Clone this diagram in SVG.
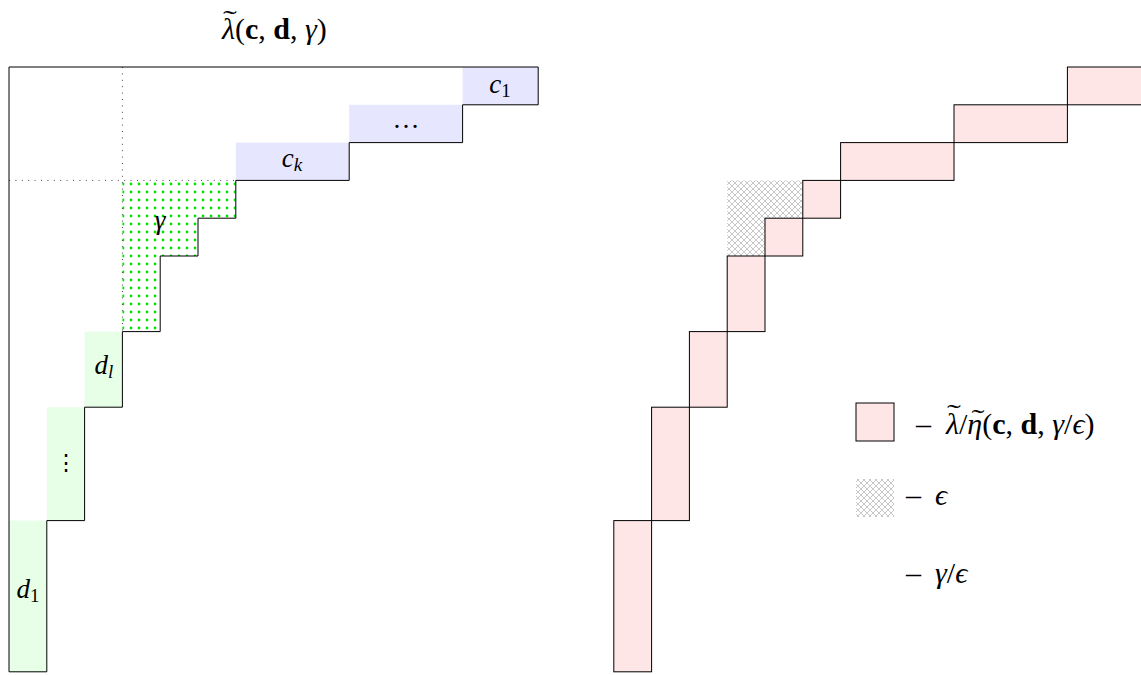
<svg xmlns="http://www.w3.org/2000/svg" width="1141" height="675" viewBox="0 0 1141 675">
<defs>
<style>
.math{font-family:"Liberation Serif","DejaVu Serif",serif;font-size:30px;fill:#000}
.lab{font-family:"Liberation Serif","DejaVu Serif",serif;font-size:27px;fill:#000}
.it{font-style:italic}
.bf{font-weight:bold}
.sub{font-size:19px}
.til{font-family:"Liberation Serif","DejaVu Serif",serif;font-size:26px;fill:#000}
.out{fill:none;stroke:#000;stroke-width:1}
.box{stroke:#000;stroke-width:1}
.dot{fill:none;stroke:#444;stroke-width:1;stroke-dasharray:1 5.4}
</style>
<pattern id="gdots" patternUnits="userSpaceOnUse" x="119" y="180" width="8" height="8">
<circle cx="4" cy="4" r="1.4" fill="#00e600"/>
</pattern>
<pattern id="xhatch" patternUnits="userSpaceOnUse" x="0" y="0" width="6" height="6">
<path d="M0,0 L6,6 M6,0 L0,6" stroke="#b0b0b0" stroke-width="0.7" fill="none"/>
</pattern>
</defs>

<g id="title">
<text class="math" x="222" y="39" font-size="29"><tspan class="it">λ</tspan>(<tspan class="bf">c</tspan>, <tspan class="bf">d</tspan>, <tspan class="it">γ</tspan>)</text>
<text class="til" x="230" y="28" text-anchor="middle" transform="translate(230 0) scale(1.6 1) translate(-230 0)">˜</text>
</g>

<g id="left-diagram">
<g id="c-boxes">
<rect x="462.6" y="67" width="75.6" height="37.8" fill="#e6e6ff"/>
<rect x="349.2" y="104.8" width="113.4" height="37.8" fill="#e6e6ff"/>
<rect x="235.8" y="142.6" width="113.4" height="37.8" fill="#e6e6ff"/>
</g>
<g id="d-boxes">
<rect x="84.6" y="331.6" width="37.8" height="75.6" fill="#e6ffe6"/>
<rect x="46.8" y="407.2" width="37.8" height="113.4" fill="#e6ffe6"/>
<rect x="9" y="520.6" width="37.8" height="151.2" fill="#e6ffe6"/>
</g>
<g id="gamma-region">
<polygon points="122.4,180.4 235.8,180.4 235.8,218.2 198,218.2 198,256 160.2,256 160.2,331.6 122.4,331.6" fill="url(#gdots)"/>
</g>
<g id="dotted-lines">
<line class="dot" x1="122.4" y1="67" x2="122.4" y2="331.6"/>
<line class="dot" x1="9" y1="180.4" x2="235.8" y2="180.4"/>
</g>
<path id="left-outline" class="out" d="M9,67 H538.2 V104.8 H462.6 V142.6 H349.2 V180.4 H235.8 V218.2 H198 V256 H160.2 V331.6 H122.4 V407.2 H84.6 V520.6 H46.8 V671.8 H9 Z"/>
<g id="labels-left">
<text class="lab" x="500" y="93" text-anchor="middle"><tspan class="it">c</tspan><tspan class="sub" dy="4">1</tspan></text>
<text class="lab" x="406" y="128" text-anchor="middle">…</text>
<text class="lab" x="292" y="167" text-anchor="middle"><tspan class="it">c</tspan><tspan class="sub it" dy="4">k</tspan></text>
<text class="lab it" x="160" y="229" text-anchor="middle">γ</text>
<text class="lab" x="104" y="374" text-anchor="middle"><tspan class="it">d</tspan><tspan class="sub it" dy="4">l</tspan></text>
<text x="66" y="470" text-anchor="middle" font-family="DejaVu Serif, serif" font-size="22">⋮</text>
<text class="lab" x="28" y="598" text-anchor="middle"><tspan class="it">d</tspan><tspan class="sub" dy="4">1</tspan></text>
</g>
</g>

<g id="right-diagram">
<g id="epsilon-region">
<polygon points="727.2,180.4 802.8,180.4 802.8,218.2 765,218.2 765,256 727.2,256" fill="url(#xhatch)"/>
</g>
<g id="strip" fill="#ffe6e6">
<rect class="box" x="613.8" y="520.6" width="37.8" height="151.2"/>
<rect class="box" x="651.6" y="407.2" width="37.8" height="113.4"/>
<rect class="box" x="689.4" y="331.6" width="37.8" height="75.6"/>
<rect class="box" x="727.2" y="256" width="37.8" height="75.6"/>
<rect class="box" x="765" y="218.2" width="37.8" height="37.8"/>
<rect class="box" x="802.8" y="180.4" width="37.8" height="37.8"/>
<rect class="box" x="840.6" y="142.6" width="113.4" height="37.8"/>
<rect class="box" x="954" y="104.8" width="113.4" height="37.8"/>
<rect class="box" x="1067.4" y="67" width="75.6" height="37.8"/>
</g>
</g>

<g id="legend">
<g id="legend-strip">
<rect class="box" x="856" y="403" width="38" height="38" fill="#ffe6e6"/>
<text class="math" x="916" y="434">–</text>
<text class="math" x="946" y="434"><tspan class="it">λ</tspan>/<tspan class="it">η</tspan>(<tspan class="bf">c</tspan>, <tspan class="bf">d</tspan>, <tspan class="it">γ</tspan>/<tspan class="it">ϵ</tspan>)</text>
<text class="til" x="954" y="422" text-anchor="middle" transform="translate(954 0) scale(1.6 1) translate(-954 0)">˜</text>
<text class="til" x="978" y="427" text-anchor="middle" transform="translate(978 0) scale(1.5 1) translate(-978 0)">˜</text>
</g>
<g id="legend-eps">
<rect x="856" y="479" width="38" height="38" fill="url(#xhatch)"/>
<text class="math" x="906" y="505">–</text>
<text class="math it" x="935" y="505">ϵ</text>
</g>
<g id="legend-gamma-eps">
<text class="math" x="906" y="583">–</text>
<text class="math" x="935" y="583"><tspan class="it">γ</tspan>/<tspan class="it">ϵ</tspan></text>
</g>
</g>
</svg>
